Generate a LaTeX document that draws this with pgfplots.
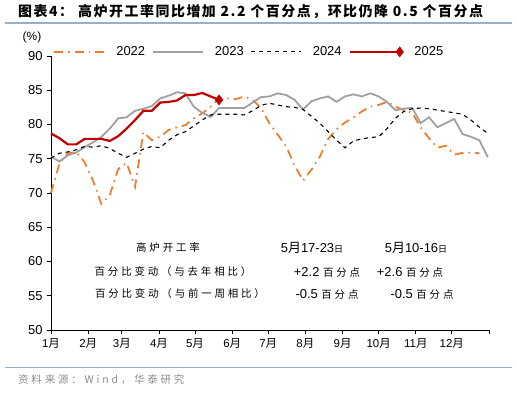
\documentclass[border=0pt]{standalone}
\usepackage{fontspec}
\setmainfont{Liberation Sans}
\newfontfamily\cjk{Noto Sans CJK SC}
\newfontfamily\cjks{Noto Sans CJK SC}[LetterSpace=27]
\newfontfamily\cjkt{Noto Sans CJK SC}[LetterSpace=11]
\usepackage{pgfplots}
\usepackage{pgfplotstable}
\pgfplotsset{compat=1.18}
\definecolor{c22}{RGB}{237,125,49}
\definecolor{c23}{RGB}{160,160,160}
\definecolor{c25}{RGB}{192,0,0}
\definecolor{rule}{RGB}{150,175,205}
\definecolor{src}{RGB}{140,140,140}
\pgfplotsset{
  longleg/.style={legend image code/.code={\draw[##1] plot coordinates {(0bp,0bp) (25bp,0bp) (50bp,0bp)};}},
  diamleg/.style={legend image code/.code={\draw[##1, mark indices={3}] plot coordinates {(0bp,0bp) (25bp,0bp) (50bp,0bp)};}},
}

\pgfplotstableread{
d v
0 70.0
7 74.3
14 75.8
21 76.0
28 74.5
35 71.8
42 68.4
49 69.7
56 73.5
63 74.4
70 70.9
77 78.9
84 77.7
91 78.2
98 79.2
105 79.6
112 79.9
119 80.9
126 81.6
133 82.6
140 83.8
147 83.8
154 83.7
161 84.1
168 83.6
175 82.4
182 80.2
189 78.5
196 76.8
203 74.0
210 71.8
217 73.4
224 75.3
231 77.9
238 79.3
245 80.3
252 81.0
259 81.9
266 82.6
273 82.85
280 83.3
287 82.6
294 82.1
301 81.7
308 79.6
315 78.0
322 76.6
329 76.9
336 75.6
343 75.85
350 75.9
357 75.8
}\dataA

\pgfplotstableread{
d v
0 75.3
7 74.6
14 75.5
21 75.9
28 76.7
35 77.4
42 78.2
49 79.4
56 80.9
63 81.05
70 82.0
77 82.3
84 82.7
91 83.8
98 84.2
105 84.7
112 84.55
119 82.6
126 81.7
133 81.1
140 82.4
147 82.4
154 82.4
161 82.4
168 83.2
175 84.0
182 84.1
189 84.55
196 84.3
203 83.6
210 82.2
217 83.4
224 83.8
231 84.1
238 83.3
245 84.1
252 84.4
259 84.1
266 84.55
273 84.1
280 83.3
287 82.1
294 82.3
301 82.45
308 80.2
315 81.05
322 79.6
329 80.2
336 80.8
343 78.6
350 78.2
357 77.7
364 75.2
}\dataB

\pgfplotstableread{
d v
0 75.1
7 75.8
14 76.0
21 76.3
28 76.8
35 76.7
42 76.9
49 76.5
56 75.8
63 75.2
70 75.8
77 76.4
84 76.8
91 76.6
98 77.7
105 78.5
112 78.95
119 79.8
126 80.65
133 81.4
140 81.5
147 81.5
154 81.5
161 81.4
168 82.0
175 82.8
182 83.1
189 82.85
196 82.6
203 82.5
210 82.2
217 81.2
224 80.2
231 78.95
238 77.7
245 76.6
252 77.6
259 77.9
266 78.1
273 78.2
280 79.4
287 80.9
294 81.9
301 82.3
308 82.4
315 82.3
322 82.1
329 81.9
336 81.7
343 81.5
350 80.65
357 79.6
364 78.7
}\dataC

\pgfplotstableread{
d v
0 78.7
7 78.0
14 77.1
21 77.1
28 77.9
35 77.9
42 77.9
49 77.6
56 78.3
63 79.4
70 80.65
77 82.0
84 82.0
91 83.2
98 83.3
105 83.5
112 84.3
119 84.3
126 84.6
133 84.1
140 83.6
}\dataD

\begin{document}
\begin{tikzpicture}[x=1bp,y=1bp]
\useasboundingbox (0,0) rectangle (517,392);
% title
\node[anchor=west,inner sep=0] at (18,380) {\cjkt\bfseries\fontsize{14}{16}\selectfont 图表4：\hspace{5bp}高炉开工率同比增加 2.2 个百分点，环比仍降 0.5 个百分点};
\draw[rule,line width=1.2bp] (5,369) -- (512,369);
% footer
\draw[rule,line width=1.2bp] (5,24.5) -- (512,24.5);
\node[anchor=west,inner sep=0,text=src] at (18,12) {\cjks\fontsize{10.5}{12}\selectfont 资料来源：Wind，华泰研究};
% unit
\node[inner sep=0] at (32,355) {\fontsize{12}{14}\selectfont (\%)};

\begin{axis}[
  at={(51bp,62bp)}, anchor=south west,
  scale only axis, width=438bp, height=274bp,
  xmin=0, xmax=365, ymin=50, ymax=90,
  axis lines*=left,
  axis line style={-, black, line width=0.8bp},
  xtick={0,31,59,90,120,151,181,212,243,273,304,334,365},
  xticklabels={1{\cjk 月},2{\cjk 月},3{\cjk 月},4{\cjk 月},5{\cjk 月},6{\cjk 月},7{\cjk 月},8{\cjk 月},9{\cjk 月},10{\cjk 月},11{\cjk 月},12{\cjk 月},{}},
  ytick={50,55,...,90},
  tick align=outside,
  major tick length=4bp,
  tick style={black, line width=0.7bp},
  /pgf/number format/assume math mode=true,
  yticklabel style={font=\fontsize{13}{15}\selectfont, xshift=-1bp},
  xticklabel style={font=\fontsize{11.5}{13}\selectfont, yshift=-1bp},
  legend style={at={(0.453,1.015)}, anchor=center, draw=none, fill=none,
    legend columns=4, font=\fontsize{13}{15}\selectfont,
    /tikz/every even column/.append style={column sep=5bp},
    /tikz/every odd column/.append style={column sep=9bp}},
  longleg,
  clip=false,
]
\addplot[c22, line width=1.8bp, dash pattern=on 9bp off 5bp on 1.5bp off 5bp] table[x=d,y=v] {\dataA};
\addlegendentry{2022}
\addplot[c23, line width=1.8bp] table[x=d,y=v] {\dataB};
\addlegendentry{2023}
\addplot[black, line width=1.1bp, dash pattern=on 4bp off 4bp] table[x=d,y=v] {\dataC};
\addlegendentry{2024}
\addplot[c25, line width=2.2bp, mark=diamond*, mark indices={21}, mark size=5bp, mark options={solid, fill=c25, draw=c25, line width=0.5bp}, diamleg] table[x=d,y=v] {\dataD};
\addlegendentry{2025}
\end{axis}

% annotation table
\node[inner sep=0] at (168,144.5) {\cjks\fontsize{10.5}{12}\selectfont 高炉开工率};
\node[inner sep=0] at (312,144.5) {\fontsize{13}{15}\selectfont 5{\cjk 月}17-23{\cjk\fontsize{9}{10}\selectfont 日}};
\node[inner sep=0] at (416,144.5) {\fontsize{13}{15}\selectfont 5{\cjk 月}10-16{\cjk\fontsize{9}{10}\selectfont 日}};
\node[inner sep=0] at (173,120) {\cjks\fontsize{10.5}{12}\selectfont 百分比变动（与去年相比）};
\node[inner sep=0] at (327,120) {\fontsize{13}{15}\selectfont +2.2 {\cjks\fontsize{10.5}{12}\selectfont 百分点}};
\node[inner sep=0] at (410,120) {\fontsize{13}{15}\selectfont +2.6 {\cjks\fontsize{10.5}{12}\selectfont 百分点}};
\node[inner sep=0] at (180,98) {\cjks\fontsize{10.5}{12}\selectfont 百分比变动（与前一周相比）};
\node[inner sep=0] at (327,98) {\fontsize{13}{15}\selectfont -0.5 {\cjks\fontsize{10.5}{12}\selectfont 百分点}};
\node[inner sep=0] at (422,98) {\fontsize{13}{15}\selectfont -0.5 {\cjks\fontsize{10.5}{12}\selectfont 百分点}};
\end{tikzpicture}
\end{document}
